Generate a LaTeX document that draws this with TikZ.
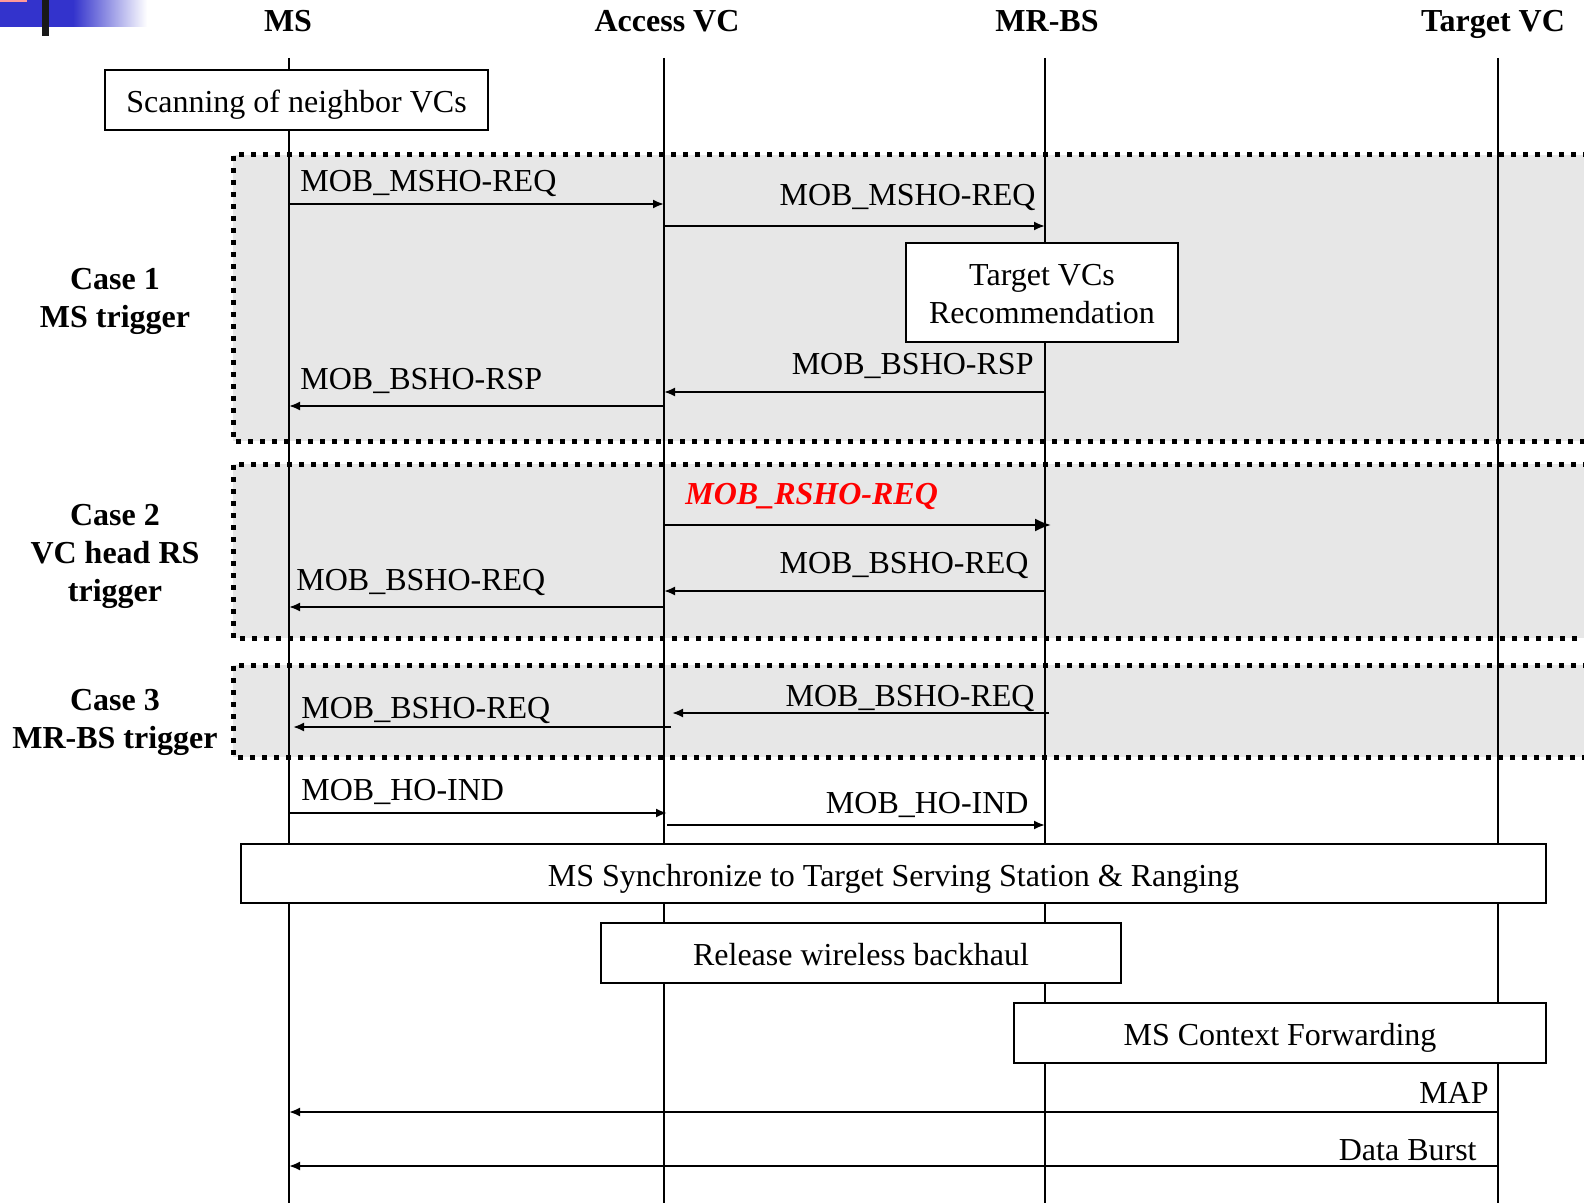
\documentclass[tikz,border=0pt]{standalone}
\usepackage{fontspec}
\setmainfont{Liberation Serif}
\usetikzlibrary{arrows.meta, positioning}
\definecolor{casegray}{RGB}{231,231,231}
\definecolor{logoblue}{RGB}{51,51,204}
\tikzset{
  life/.style={line width=1pt}, % vertical lifelines
  msg/.style={-{Latex[length=5.5pt,width=4.5pt]}, line width=1pt}, % messages
  rsmsg/.style={-{Latex[length=8pt,width=6.5pt]}, line width=1pt},
  lbl/.style={inner sep=0pt, text height=10.5pt, text depth=0pt,
    font=\fontsize{16}{19}\selectfont},
  head/.style={inner sep=0pt, font=\fontsize{16}{19}\selectfont\bfseries},
  casebox/.style={fill=casegray},
  caseline/.style={line width=2.5pt, dash pattern=on 2.5pt off 3.5pt},
  procbox/.style={draw, fill=white, line width=1.2pt, inner sep=0pt,
    text height=12.5pt, text depth=0pt,
    align=center, font=\fontsize{16}{19}\selectfont},
}
\begin{document}
\begin{tikzpicture}[x=0.5pt, y=-0.5pt]
  \useasboundingbox (0,0) rectangle (1584,1203);
  \clip (0,0) rectangle (1584,1203);

  % corner logo
  \fill[logoblue] (0,0) rectangle (73,27);
  \shade[left color=logoblue, right color=white] (73,0) rectangle (147,27);
  \fill[red!40] (0,0) rectangle (27,2);
  \fill[black!90] (42,0) rectangle (49,36);

  % case regions
  \fill[casebox] (233,155) rectangle (1600,441);
  \fill[casebox] (233,464) rectangle (1600,638);
  \fill[casebox] (233,665) rectangle (1600,757);
  \draw[caseline] (1600,155) -- (233,155) -- (233,441) -- (1600,441);
  \draw[caseline] (1600,464) -- (233,464) -- (233,638) -- (1600,638);
  \draw[caseline] (1600,665) -- (233,665) -- (233,757) -- (1600,757);

  % headers
  \node[head, anchor=base] (msh)   at (288,31.5)  {MS};
  \node[head, anchor=base] (acch)  at (667,31.5)  {Access VC};
  \node[head, anchor=base] (mrbsh) at (1047,31.5) {MR-BS};
  \node[head, anchor=base] (tvch)  at (1493,31.5) {Target VC};

  % lifelines
  \coordinate (ms)   at (289,58);
  \coordinate (acc)  at (664,58);
  \coordinate (mrbs) at (1045,58);
  \coordinate (tvc)  at (1498,58);
  \coordinate (bottom) at (0,1203);
  \foreach \l in {ms, acc, mrbs, tvc}
    \draw[life] (\l) -- (\l |- bottom);

  % case labels
  \node[head, align=center] (case1) at (115,301.5) {Case 1\\MS trigger};
  \node[head, align=center] (case2) at (115,556) {Case 2\\VC head RS\\trigger};
  \node[head, align=center] (case3) at (115,722) {Case 3\\MR-BS trigger};

  % boxes
  \node[procbox, minimum width=191.5pt, minimum height=30pt] (scan)
    at (296.5,100) {Scanning of neighbor VCs};
  \node[procbox, text height=31.5pt, minimum width=136pt, minimum height=49.5pt] (recom)
    at (1042,292.5) {Target VCs\\Recommendation};
  \node[procbox, minimum width=652.5pt, minimum height=29.5pt] (sync)
    at (893.5,873.5) {MS Synchronize to Target Serving Station \& Ranging};
  \node[procbox, minimum width=260pt, minimum height=30pt] (release)
    at (861,953) {Release wireless backhaul};
  \node[procbox, minimum width=266pt, minimum height=30pt] (ctx)
    at (1280,1033) {MS Context Forwarding};

  % message rows
  \coordinate (m1) at (0,204);
  \coordinate (m2) at (0,226);
  \coordinate (m4) at (0,392);
  \coordinate (m5) at (0,406);
  \coordinate (m6) at (0,525);
  \coordinate (m7) at (0,591);
  \coordinate (m8) at (0,607);
  \coordinate (m9) at (0,713);
  \coordinate (m10) at (0,727);
  \coordinate (m11) at (0,813);
  \coordinate (m12) at (0,825);
  \coordinate (m13) at (0,1112);
  \coordinate (m14) at (0,1166);

  % case 1
  \draw[msg] (ms |- m1) -- (acc |- m1);
  \node[lbl, anchor=west] (l1) at (300,181) {MOB\_MSHO-REQ};
  \draw[msg] (acc |- m2) -- (mrbs |- m2);
  \node[lbl, anchor=east] (l2) at (1036,195) {MOB\_MSHO-REQ};
  \draw[msg] (mrbs |- m4) -- (acc |- m4);
  \node[lbl, anchor=east] (l4) at (1034,364) {MOB\_BSHO-RSP};
  \draw[msg] (acc |- m5) -- (ms |- m5);
  \node[lbl, anchor=west] (l5) at (300,379) {MOB\_BSHO-RSP};

  % case 2
  \draw[rsmsg] (acc |- m6) -- ([xshift=3pt]mrbs |- m6);
  \node[lbl, anchor=west, text=red, font=\fontsize{16}{19}\selectfont\bfseries\itshape]
    (l6) at (685,494) {MOB\_RSHO-REQ};
  \draw[msg] (mrbs |- m7) -- (acc |- m7);
  \node[lbl, anchor=east] (l7) at (1029,563) {MOB\_BSHO-REQ};
  \draw[msg] (acc |- m8) -- (ms |- m8);
  \node[lbl, anchor=west] (l8) at (296,580) {MOB\_BSHO-REQ};

  % case 3
  \draw[msg] ([xshift=2pt]mrbs |- m9) -- ([xshift=4pt]acc |- m9);
  \node[lbl, anchor=east] (l9) at (1035,696) {MOB\_BSHO-REQ};
  \draw[msg] ([xshift=3.5pt]acc |- m10) -- ([xshift=2pt]ms |- m10);
  \node[lbl, anchor=west] (l10) at (301,708) {MOB\_BSHO-REQ};

  % handover indication
  \draw[msg] (ms |- m11) -- ([xshift=1.5pt]acc |- m11);
  \node[lbl, anchor=west] (l11) at (301,790) {MOB\_HO-IND};
  \draw[msg] ([xshift=1.5pt]acc |- m12) -- (mrbs |- m12);
  \node[lbl, anchor=east] (l12) at (1029,803) {MOB\_HO-IND};

  % after handover
  \draw[msg] (tvc |- m13) -- (ms |- m13);
  \node[lbl, anchor=east] (l13) at (1489,1093) {MAP};
  \draw[msg] (tvc |- m14) -- (ms |- m14);
  \node[lbl, anchor=east] (l14) at (1477,1150) {Data Burst};
\end{tikzpicture}
\end{document}
